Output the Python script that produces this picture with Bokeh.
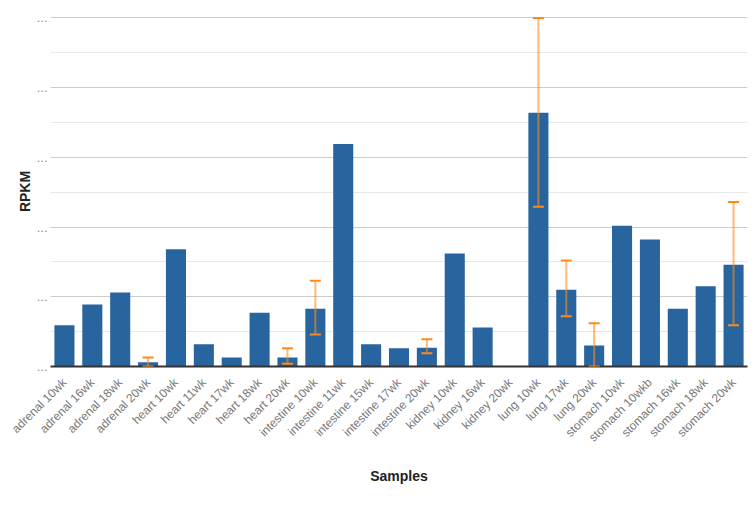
from math import pi
from bokeh.plotting import figure
from bokeh.models import ColumnDataSource, FactorRange, Range1d, FixedTicker, Whisker, TeeHead
from bokeh.embed import file_html
from bokeh.resources import INLINE

samples = ["adrenal 10wk", "adrenal 16wk", "adrenal 18wk", "adrenal 20wk",
           "heart 10wk", "heart 11wk", "heart 17wk", "heart 18wk", "heart 20wk",
           "intestine 10wk", "intestine 11wk", "intestine 15wk", "intestine 17wk", "intestine 20wk",
           "kidney 10wk", "kidney 16wk", "kidney 20wk",
           "lung 10wk", "lung 17wk", "lung 20wk",
           "stomach 10wk", "stomach 10wkb", "stomach 16wk", "stomach 18wk", "stomach 20wk"]
rpkm = [0.59, 0.89, 1.06, 0.06,
        1.68, 0.32, 0.13, 0.77, 0.13,
        0.83, 3.19, 0.32, 0.26, 0.27,
        1.62, 0.56, 0.0,
        3.64, 1.10, 0.30,
        2.02, 1.82, 0.83, 1.15, 1.46]

err_samples = ["adrenal 20wk", "heart 20wk", "intestine 10wk", "intestine 20wk",
               "lung 10wk", "lung 17wk", "lung 20wk", "stomach 20wk"]
err_upper = [0.13, 0.26, 1.23, 0.39, 5.0, 1.52, 0.62, 2.36]
err_lower = [0.0, 0.04, 0.46, 0.19, 2.29, 0.72, 0.0, 0.59]

y_ticks = [0, 1, 2, 3, 4, 5]
y_minor = [0.5, 1.5, 2.5, 3.5, 4.5]

p = figure(width=755, height=518, x_range=FactorRange(*samples), y_range=Range1d(0, 5.02),
           output_backend="svg", toolbar_location=None,
           min_border_left=50, min_border_right=8, min_border_top=16, min_border_bottom=152)
p.outline_line_color = None
p.background_fill_color = "white"

src = ColumnDataSource(dict(x=samples, y=rpkm))
p.vbar(x="x", top="y", width=0.72, source=src, fill_color="#28659e", line_color=None)

esrc = ColumnDataSource(dict(x=err_samples, upper=err_upper, lower=err_lower))
w = Whisker(base="x", upper="upper", lower="lower", source=esrc, level="overlay",
            line_color="#ff8c1a", line_alpha=0.6, line_width=2,
            upper_head=TeeHead(size=11, line_color="#ff8a1c", line_width=2),
            lower_head=TeeHead(size=11, line_color="#ff8a1c", line_width=2))
p.add_layout(w)

p.yaxis.ticker = FixedTicker(ticks=y_ticks, minor_ticks=y_minor)
p.yaxis.major_label_overrides = {t: "..." for t in y_ticks}
p.yaxis.major_label_text_color = "#a08a70"
p.yaxis.major_label_text_font = "Liberation Sans"
p.yaxis.major_label_text_font_size = "13px"
p.yaxis.axis_line_color = None
p.yaxis.major_tick_line_color = None
p.yaxis.minor_tick_line_color = None
p.yaxis.major_tick_out = 0
p.yaxis.minor_tick_out = 0
p.yaxis.axis_label = "RPKM"
p.yaxis.axis_label_text_font = "Liberation Sans"
p.yaxis.axis_label_text_font_style = "bold"
p.yaxis.axis_label_text_font_size = "14px"
p.yaxis.axis_label_text_color = "#222222"
p.yaxis.axis_label_standoff = 1
p.yaxis.major_label_standoff = 3

p.ygrid.grid_line_color = "#cccccc"
p.ygrid.minor_grid_line_color = "#e8e8e8"
p.xgrid.grid_line_color = None

p.xaxis.axis_line_color = "#333333"
p.xaxis.axis_line_width = 2
p.xaxis.major_tick_line_color = None
p.xaxis.minor_tick_line_color = None
p.xaxis.major_label_orientation = pi / 4
p.xaxis.major_label_text_font = "Liberation Sans"
p.xaxis.major_label_text_font_size = "12px"
p.xaxis.major_label_text_color = "#777777"
p.xaxis.major_label_standoff = 8
p.xaxis.axis_label = "Samples"
p.xaxis.axis_label_text_font = "Liberation Sans"
p.xaxis.axis_label_text_font_style = "bold"
p.xaxis.axis_label_text_font_size = "14px"
p.xaxis.axis_label_text_color = "#222222"
p.xaxis.axis_label_standoff = 16

open("out.html", "w").write(file_html(p, INLINE))
